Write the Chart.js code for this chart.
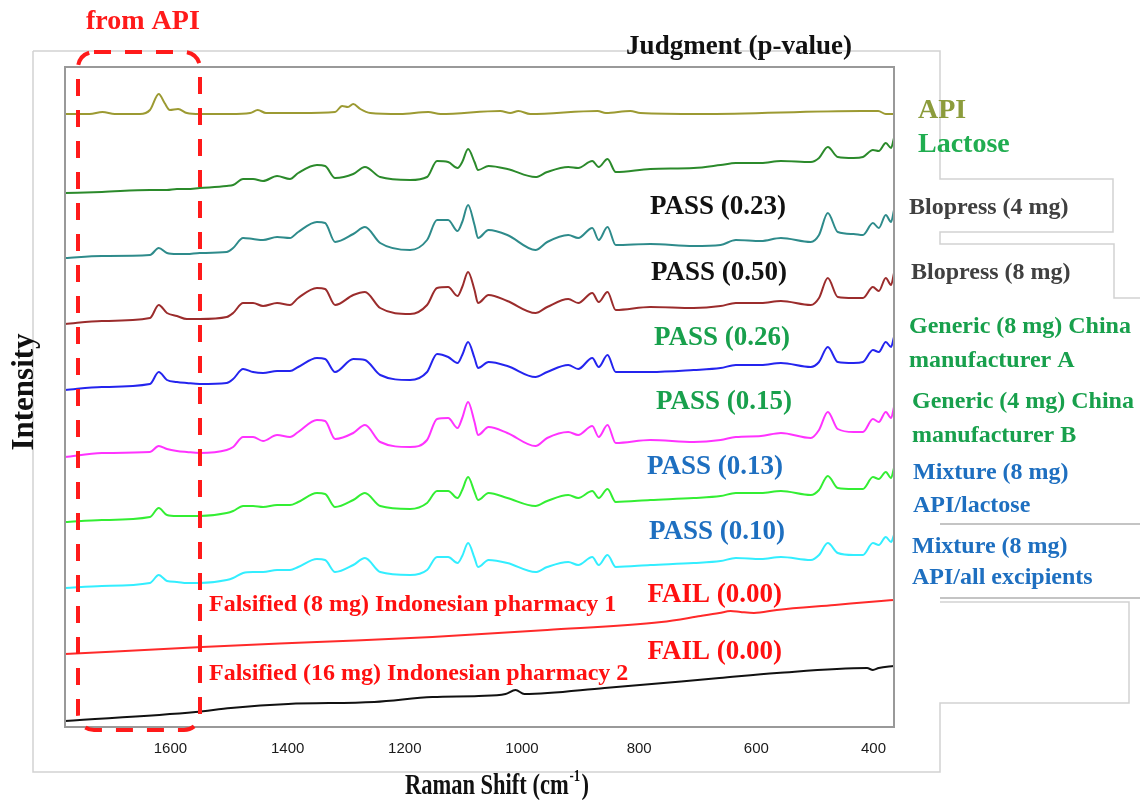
<!DOCTYPE html>
<html>
<head>
<meta charset="utf-8">
<title>Raman spectra of candesartan tablets</title>
<script src="https://cdn.jsdelivr.net/npm/chart.js@4.4.1/dist/chart.umd.min.js"></script>
<style>
  html, body { margin: 0; padding: 0; background: #fff; }
  #wrap { width: 1140px; height: 800px; position: relative; }
</style>
</head>
<body>
<div id="wrap"><canvas id="chart-raman" width="1140" height="800"></canvas></div>
<script>
// Raman shift (cm-1) shared by the tablet and mixture spectra
const shift = [1780, 1717, 1635, 1620, 1606, 1589, 1572, 1550, 1504, 1493, 1476, 1459, 1442, 1418, 1396, 1382,
  1350, 1336, 1319, 1288, 1268, 1242, 1191, 1162, 1145, 1126, 1110, 1102, 1092, 1081, 1075, 1057, 1025, 977,
  957, 921, 904, 880, 869, 854, 840, 781, 707, 661, 635, 592, 558, 507, 493, 478, 461, 434, 418, 401, 391,
  379, 370, 365];

// Intensities (a.u., already offset for stacking)
const lactose = [534, 535, 537, 537, 537, 538, 538, 539, 541, 542, 548, 548, 546, 551, 548, 554, 562, 561, 549,
  553, 560, 550, 547, 550, 566, 565, 559, 565, 578, 565, 557, 561, 558, 550, 555, 560, 559, 566, 560, 568, 555,
  558, 559, 562, 564, 564, 566, 565, 569, 580, 570, 569, 570, 577, 576, 584, 579, 589];
const blopress4 = [469, 471, 472, 479, 474, 473, 473, 474, 475, 479, 489, 488, 487, 490, 489, 495, 505, 504, 485,
  493, 500, 484, 477, 487, 507, 507, 496, 505, 522, 502, 489, 497, 492, 477, 485, 492, 489, 499, 487, 500, 482,
  483, 481, 482, 487, 486, 489, 485, 492, 514, 495, 493, 492, 504, 499, 512, 505, 517];
const blopress8 = [403, 406, 409, 422, 414, 411, 408, 408, 410, 414, 424, 424, 421, 424, 422, 429, 439, 438, 422,
  432, 435, 419, 413, 422, 439, 440, 431, 440, 455, 437, 424, 432, 426, 414, 420, 428, 424, 434, 425, 435, 417,
  420, 419, 421, 424, 424, 426, 422, 429, 449, 430, 429, 429, 440, 436, 449, 442, 454];
const genericA = [337, 340, 343, 355, 347, 345, 344, 343, 344, 348, 358, 355, 354, 356, 356, 360, 369, 368, 355,
  368, 367, 352, 347, 355, 373, 370, 364, 372, 385, 369, 359, 365, 361, 350, 355, 362, 358, 369, 360, 372, 355,
  355, 357, 359, 362, 362, 364, 360, 365, 380, 365, 364, 365, 377, 375, 385, 380, 390];
const genericB = [270, 274, 275, 281, 278, 276, 275, 274, 277, 280, 290, 290, 286, 292, 290, 295, 307, 306, 288,
  294, 302, 285, 280, 287, 308, 309, 299, 309, 325, 305, 292, 300, 294, 281, 289, 295, 292, 301, 290, 302, 284,
  287, 285, 287, 290, 291, 294, 289, 297, 315, 298, 295, 295, 308, 305, 315, 309, 320];
const mixLactose = [205, 207, 210, 219, 212, 211, 211, 211, 214, 216, 221, 221, 220, 222, 222, 225, 234, 233, 220,
  227, 234, 221, 218, 224, 236, 236, 229, 237, 250, 235, 227, 234, 229, 221, 226, 232, 229, 236, 229, 238, 225,
  227, 229, 231, 234, 234, 236, 232, 237, 251, 239, 238, 238, 250, 248, 255, 249, 259];
const mixAll = [139, 141, 144, 152, 146, 145, 144, 144, 147, 149, 154, 155, 155, 157, 157, 160, 168, 167, 155,
  162, 169, 155, 152, 157, 170, 170, 164, 171, 184, 169, 160, 167, 164, 155, 160, 165, 162, 170, 162, 172, 160,
  162, 164, 166, 169, 168, 170, 167, 172, 184, 174, 172, 172, 184, 182, 190, 185, 192];

// API reference spectrum has its own sampling
const apiShift = [1780, 1738, 1716, 1695, 1652, 1635, 1620, 1610, 1601, 1587, 1572, 1550, 1498, 1464, 1451, 1437,
  1379, 1319, 1307, 1297, 1288, 1276, 1259, 1208, 1160, 1139, 1037, 1020, 1006, 986, 871, 857, 815, 798, 695,
  421, 392, 379, 365];
const api = [613, 613, 615, 613, 613, 617, 633, 624, 617, 618, 614, 613, 613, 614, 617, 614, 614, 615, 621, 620,
  623, 618, 614, 613, 615, 613, 616, 614, 616, 613, 616, 614, 616, 614, 613, 616, 616, 613, 613];

// Falsified tablets: fluorescent background only
const fals1Shift = [1780, 1546, 1350, 1153, 957, 762, 695, 663, 644, 627, 604, 565, 466, 387, 365];
const falsified1 = [73, 80, 85, 90, 97, 105, 111, 114, 116, 115, 114, 117, 122, 126, 127];
const fals2Shift = [1780, 1557, 1497, 1399, 1252, 1153, 1074, 1028, 1011, 996, 859, 663, 565, 411, 401, 391, 365];
const falsified2 = [6, 15, 19, 23, 25, 30, 31, 33, 37, 33, 39, 49, 54, 59, 57, 59, 61];

const xTicks = [1600, 1400, 1200, 1000, 800, 600, 400];

const SERIF = '"Liberation Serif", "Times New Roman", serif';

function zip(xs, ys) {
    return ys.map((y, i) => ({x: xs[i], y: y}));
}

function spectrum(label, xs, ys, color) {
    return {
        label: label,
        data: zip(xs, ys),
        borderColor: color,
        borderWidth: 2,
        pointRadius: 0,
        cubicInterpolationMode: 'monotone',
        fill: false
    };
}

const datasets = [
    spectrum('API', apiShift, api, '#9c9a32'),
    spectrum('Lactose', shift, lactose, '#2b8a2b'),
    spectrum('Blopress (4 mg)', shift, blopress4, '#2e8b8b'),
    spectrum('Blopress (8 mg)', shift, blopress8, '#9b2c2c'),
    spectrum('Generic (8 mg) China manufacturer A', shift, genericA, '#2424ee'),
    spectrum('Generic (4 mg) China manufacturer B', shift, genericB, '#ff33ff'),
    spectrum('Mixture (8 mg) API/lactose', shift, mixLactose, '#33ee33'),
    spectrum('Mixture (8 mg) API/all excipients', shift, mixAll, '#33eeff'),
    spectrum('Falsified (8 mg) Indonesian pharmacy 1', fals1Shift, falsified1, '#ff2a2a'),
    spectrum('Falsified (16 mg) Indonesian pharmacy 2', fals2Shift, falsified2, '#111111')
];

// texts around the plot: [text, x, y, color, size, align]
const notes = [
    ['from API', 86, 22, '#ff1a1a', 28, 'left'],
    ['Judgment (p-value)', 739, 47, '#111111', 27, 'center'],
    ['API', 918, 111, '#8c9c3c', 28, 'left'],
    ['Lactose', 918, 145, '#20ad50', 28, 'left'],
    ['Blopress (4 mg)', 909, 208, '#404040', 24, 'left'],
    ['Blopress (8 mg)', 911, 273, '#404040', 24, 'left'],
    ['Generic (8 mg) China', 909, 327, '#18a04c', 24, 'left'],
    ['manufacturer A', 909, 361, '#18a04c', 24, 'left'],
    ['Generic (4 mg) China', 912, 402, '#18a04c', 24, 'left'],
    ['manufacturer B', 912, 436, '#18a04c', 24, 'left'],
    ['Mixture (8 mg)', 913, 473, '#1e6fc0', 24, 'left'],
    ['API/lactose', 913, 506, '#1e6fc0', 24, 'left'],
    ['Mixture (8 mg)', 912, 547, '#1e6fc0', 24, 'left'],
    ['API/all excipients', 912, 578, '#1e6fc0', 24, 'left'],
    ['PASS (0.23)', 786, 207, '#111111', 27, 'right'],
    ['PASS (0.50)', 787, 273, '#111111', 27, 'right'],
    ['PASS (0.26)', 790, 338, '#18a04c', 27, 'right'],
    ['PASS (0.15)', 792, 402, '#18a04c', 27, 'right'],
    ['PASS (0.13)', 783, 467, '#1e6fc0', 27, 'right'],
    ['PASS (0.10)', 785, 532, '#1e6fc0', 27, 'right'],
    ['FAIL (0.00)', 782, 595, '#ff1010', 27, 'right'],
    ['FAIL (0.00)', 782, 652, '#ff1010', 27, 'right'],
    ['Falsified (8 mg) Indonesian pharmacy 1', 209, 605, '#ff1010', 24, 'left'],
    ['Falsified (16 mg) Indonesian pharmacy 2', 209, 674, '#ff1010', 24, 'left']
];

const panelPlugin = {
    id: 'panel',
    afterDraw(chart) {
        const ctx = chart.ctx;
        const area = chart.chartArea;
        ctx.save();

        // outer slide frame with the label boxes on the right
        ctx.strokeStyle = '#d2d2d2';
        ctx.lineWidth = 1.5;
        ctx.beginPath();
        ctx.moveTo(33, 51); ctx.lineTo(940, 51); ctx.lineTo(940, 179);
        ctx.lineTo(1113, 179); ctx.lineTo(1113, 232); ctx.lineTo(940, 232);
        ctx.lineTo(940, 244); ctx.lineTo(1114, 244); ctx.lineTo(1114, 298); ctx.lineTo(1140, 298);
        ctx.moveTo(940, 602); ctx.lineTo(1129, 602); ctx.lineTo(1129, 703); ctx.lineTo(940, 703);
        ctx.lineTo(940, 772); ctx.lineTo(33, 772); ctx.lineTo(33, 51);
        ctx.stroke();
        ctx.strokeStyle = '#c4c4c4';
        ctx.lineWidth = 2;
        ctx.beginPath();
        ctx.moveTo(940, 524); ctx.lineTo(1140, 524);
        ctx.moveTo(940, 598); ctx.lineTo(1140, 598);
        ctx.stroke();

        // plot border
        ctx.strokeStyle = '#999999';
        ctx.lineWidth = 2;
        ctx.strokeRect(area.left, area.top, area.right - area.left, area.bottom - area.top);

        // dashed box around the API band
        ctx.strokeStyle = '#ff1a1a';
        ctx.lineWidth = 4;
        ctx.setLineDash([17, 14]);
        ctx.beginPath();
        ctx.roundRect(78, 52, 122, 678, 16);
        ctx.stroke();
        ctx.setLineDash([]);

        ctx.textBaseline = 'middle';
        notes.forEach(n => {
            ctx.font = 'bold ' + n[4] + 'px ' + SERIF;
            ctx.fillStyle = n[3];
            ctx.textAlign = n[5];
            ctx.fillText(n[0], n[1], n[2]);
        });

        // axis titles (the x title is set narrow, with a superscript -1)
        ctx.fillStyle = '#111111';
        ctx.textAlign = 'left';
        const big = 'bold 30px ' + SERIF, small = 'bold 17px ' + SERIF;
        ctx.font = big;
        const w1 = ctx.measureText('Raman Shift (cm').width, w3 = ctx.measureText(')').width;
        ctx.font = small;
        const w2 = ctx.measureText('-1').width;
        const total = w1 + w2 + w3 + 3;
        ctx.save();
        ctx.translate(497, 786);
        ctx.scale(0.75, 1);
        ctx.translate(-total / 2, 0);
        ctx.font = big;
        ctx.fillText('Raman Shift (cm', 0, 0);
        ctx.font = small;
        ctx.fillText('-1', w1 + 1, -9);
        ctx.font = big;
        ctx.fillText(')', w1 + w2 + 3, 0);
        ctx.restore();

        ctx.translate(25, 392);
        ctx.rotate(-Math.PI / 2);
        ctx.textAlign = 'center';
        ctx.font = 'bold 31px ' + SERIF;
        ctx.fillText('Intensity', 0, 0);
        ctx.restore();
    }
};

const chartRaman = new Chart(document.getElementById('chart-raman').getContext('2d'), {
    type: 'line',
    data: { datasets: datasets },
    options: {
        responsive: false,
        animation: false,
        devicePixelRatio: 1,
        events: [],
        layout: { padding: { left: 65, right: 246, top: 67, bottom: 29 } },
        plugins: {
            legend: { display: false },
            tooltip: { enabled: false }
        },
        scales: {
            x: {
                type: 'linear',
                reverse: true,
                min: 365,
                max: 1780,
                grid: { display: false, drawTicks: false },
                border: { display: false },
                afterBuildTicks: scale => { scale.ticks = xTicks.map(v => ({ value: v })); },
                ticks: {
                    padding: 13,
                    color: '#1a1a1a',
                    font: { family: '"Liberation Sans", Arial, sans-serif', size: 15 },
                    callback: value => String(value)
                }
            },
            y: {
                display: false,
                min: 0,
                max: 660
            }
        }
    },
    plugins: [panelPlugin]
});
</script>
</body>
</html>
